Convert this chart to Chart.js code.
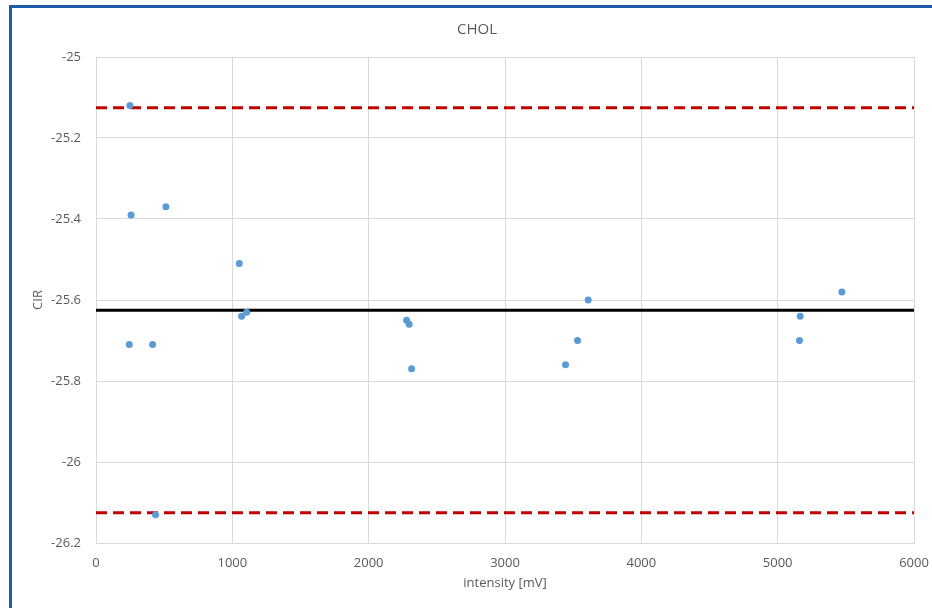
<!DOCTYPE html>
<html>
<head>
<meta charset="utf-8">
<script src="https://cdn.jsdelivr.net/npm/chart.js@4.4.0/dist/chart.umd.min.js"></script>
<style>
  html, body { margin: 0; padding: 0; background: #fff; }
  #wrap { position: relative; width: 932px; height: 608px; overflow: hidden; }
  #chart { position: absolute; left: 0; top: 0; }
  .edge { position: absolute; background: #1f5aa8; }
</style>
</head>
<body>
<div id="wrap">
  <canvas id="chart" width="932" height="608"></canvas>
  <div class="edge" style="left:9px;top:5px;width:923px;height:3px;"></div>
  <div class="edge" style="left:9px;top:5px;width:3px;height:603px;"></div>
</div>
<script>
// measured points (intensity mV, CIR)
var intensity = [249, 257, 513, 1051, 1068, 1105, 244, 415, 437, 2278, 2297, 2315, 3444, 3532, 3610, 5160, 5165, 5471];
var cir = [-25.12, -25.39, -25.37, -25.51, -25.64, -25.63, -25.71, -25.71, -26.13, -25.65, -25.66, -25.77, -25.76, -25.70, -25.60, -25.70, -25.64, -25.58];

var lineX = [0, 6000];
var meanVal = -25.625;
var upperVal = -25.125;
var lowerVal = -26.125;

var xTicks = [0, 1000, 2000, 3000, 4000, 5000, 6000];
var yTicks = [-25, -25.2, -25.4, -25.6, -25.8, -26, -26.2];

(function () {
    "use strict";

    var pts = intensity.map(function (x, i) { return { x: x, y: cir[i] }; });
    function hline(v) { return lineX.map(function (x) { return { x: x, y: v }; }); }

    var font = { family: "'Open Sans'", size: 13 };
    var grey = "#595959";
    var gridCol = "#d9d9d9";

    var ctx = document.getElementById("chart").getContext("2d");
    new Chart(ctx, {
        type: 'scatter',
        data: {
            datasets: [
                {
                    data: hline(upperVal), type: 'line', showLine: true,
                    borderColor: '#c00000', borderWidth: 3, borderDash: [11, 6],
                    pointRadius: 0, fill: false, order: 3
                },
                {
                    data: hline(lowerVal), type: 'line', showLine: true,
                    borderColor: '#c00000', borderWidth: 3, borderDash: [11, 6],
                    pointRadius: 0, fill: false, order: 3
                },
                {
                    data: hline(meanVal), type: 'line', showLine: true,
                    borderColor: '#000000', borderWidth: 3,
                    pointRadius: 0, fill: false, order: 2
                },
                {
                    data: pts,
                    backgroundColor: '#5b9bd5', borderColor: '#5b9bd5',
                    pointRadius: 3.5, pointBorderWidth: 0, order: 1
                }
            ]
        },
        options: {
            responsive: false,
            animation: false,
            // left padding shifts the title centre to where Excel put it
            layout: { padding: { left: 40, right: 18, top: 0, bottom: 0 } },
            plugins: {
                legend: { display: false },
                tooltip: { enabled: false },
                title: {
                    display: true, text: 'CHOL', color: grey,
                    font: { family: "'Open Sans'", size: 15, weight: 'normal', lineHeight: 1.2 },
                    padding: { top: 21, bottom: 18 }
                }
            },
            scales: {
                x: {
                    type: 'linear', min: 0, max: 6000,
                    afterBuildTicks: function (s) { s.ticks = xTicks.map(function (v) { return { value: v }; }); },
                    afterFit: function (s) { s.height = 65; s.paddingLeft = 0; s.paddingRight = 0; },
                    grid: { color: gridCol, drawTicks: false },
                    border: { color: gridCol },
                    ticks: {
                        color: grey, font: font, padding: 12, maxRotation: 0,
                        callback: function (v) { return String(v); }
                    },
                    title: { display: true, text: 'intensity [mV]', color: grey, font: font, padding: { top: 4, bottom: 17 } }
                },
                y: {
                    type: 'linear', min: -26.2, max: -25,
                    afterBuildTicks: function (s) { s.ticks = yTicks.map(function (v) { return { value: v }; }); },
                    afterFit: function (s) { s.width = 56; s.paddingTop = 0; s.paddingBottom = 0; },
                    grid: { color: gridCol, drawTicks: false },
                    border: { display: false },
                    ticks: {
                        color: grey, font: font, padding: 15,
                        callback: function (v) { return String(Math.round(v * 10) / 10); }
                    },
                    title: { display: true, text: 'CIR', color: grey, font: font, padding: { top: -10, bottom: 0 } }
                }
            }
        }
    });
})();
</script>
</body>
</html>
